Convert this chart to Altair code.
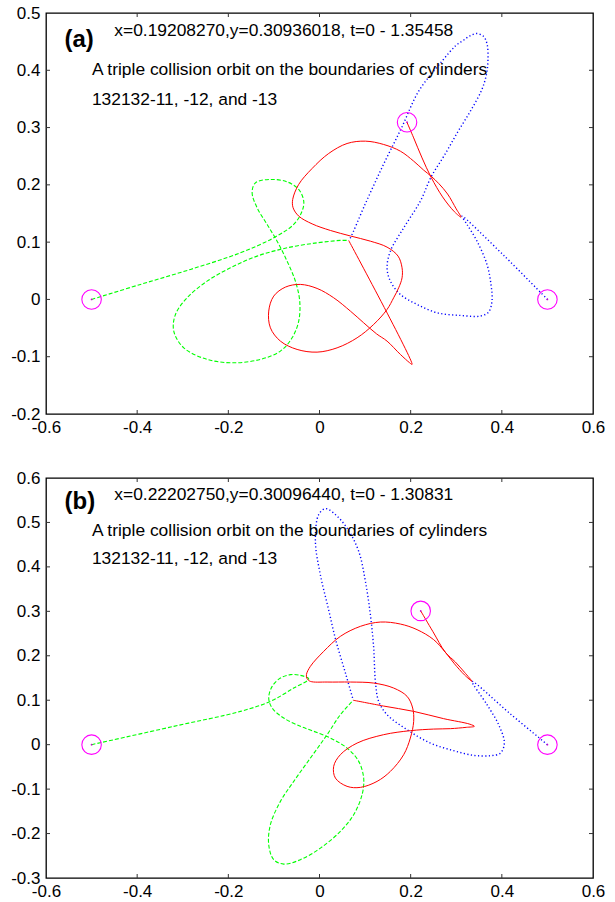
import altair as alt
import pandas as pd

# ---------------- data: panel (a) ----------------
a_red_x = [0.192, 0.2066, 0.225, 0.245, 0.270, 0.296, 0.3105,
           0.300, 0.281, 0.262, 0.245, 0.2285, 0.2066, 0.1774, 0.1408, 0.1007, 0.0605,
           0.0202, -0.0162, -0.0456, -0.0588, -0.0579, -0.0456, -0.0162, 0.0239, 0.0677,
           0.1116, 0.1482, 0.1724, 0.1811, 0.1811, 0.1737, 0.1627, 0.1482, 0.1189, 0.0825,
           0.0386, -0.0053, -0.0491, -0.0857, -0.1077, -0.1114, -0.1004, -0.0748, -0.0419,
           -0.0053, 0.0311, 0.0678, 0.0969, 0.1250, 0.1482, 0.1774, 0.1978, 0.2031, 0.064]
a_red_y = [0.309, 0.282, 0.247, 0.213, 0.179, 0.153, 0.1436,
           0.158, 0.184, 0.202, 0.215, 0.2257, 0.2414, 0.2588, 0.2705, 0.2763, 0.2722,
           0.2548, 0.2286, 0.2008, 0.1745, 0.1600, 0.1455, 0.1319, 0.1204, 0.1108,
           0.1017, 0.0913, 0.0756, 0.0552, 0.0377, 0.0203, 0.0029, -0.0175, -0.0436, -0.0670,
           -0.0845, -0.0920, -0.0873, -0.0728, -0.0496, -0.0204, 0.0058, 0.0215, 0.0262,
           0.0192, 0.0029, -0.0204, -0.0408, -0.0600, -0.0728, -0.0960, -0.1106, -0.1134, 0.103]

a_green_x = [-0.5, -0.3928, -0.2831, -0.1735, -0.1004, -0.0566, -0.0382, -0.0346, -0.0456,
             -0.0711, -0.1077, -0.1406, -0.1478, -0.1368, -0.1149, -0.0930, -0.0711, -0.0529,
             -0.0434, -0.0456, -0.0601, -0.0857, -0.1296, -0.1882, -0.2465, -0.2978, -0.3197,
             -0.3160, -0.2904, -0.2465, -0.1954, -0.1368, -0.0711, -0.0053, 0.0458, 0.064]
a_green_y = [0.0, 0.0262, 0.0524, 0.0814, 0.1076, 0.1309, 0.1541, 0.1716, 0.1920,
             0.2053, 0.2094, 0.2036, 0.1861, 0.1599, 0.1309, 0.1017, 0.0668, 0.0319,
             -0.0030, -0.0379, -0.0670, -0.0902, -0.1047, -0.1106, -0.1047, -0.0845, -0.0553,
             -0.0262, 0.0029, 0.0319, 0.0551, 0.0756, 0.0901, 0.0988, 0.1030, 0.103]

a_blue_x = [0.5, 0.404, 0.3126, 0.3236, 0.3455, 0.3675, 0.3762, 0.3784, 0.371, 0.3529,
            0.309, 0.2579, 0.214, 0.1774, 0.1555, 0.1482, 0.1555, 0.1847, 0.2213, 0.245,
            0.275, 0.303, 0.332, 0.356, 0.366, 0.3695, 0.3678, 0.360, 0.345, 0.330, 0.315,
            0.299, 0.2687, 0.2176, 0.18, 0.14, 0.1, 0.0678, 0.064]
a_blue_y = [0.0, 0.077, 0.1454, 0.1309, 0.1018, 0.061, 0.0261, -0.003, -0.022, -0.029,
            -0.0279, -0.0233, -0.0087, 0.0087, 0.0319, 0.0552, 0.0843, 0.125, 0.1716, 0.214,
            0.253, 0.292, 0.330, 0.366, 0.392, 0.4159, 0.445, 0.459, 0.4642, 0.460, 0.452,
            0.443, 0.4159, 0.3635, 0.2995, 0.235, 0.166, 0.1075, 0.103]

a_circle_x = [0.19208270, -0.5, 0.5]
a_circle_y = [0.30936018, 0.0, 0.0]

# ---------------- data: panel (b) ----------------
b_red_x = [0.222, 0.249, 0.276, 0.298, 0.318, 0.3346, 0.318, 0.296, 0.276, 0.2504, 0.214,
           0.1774, 0.1336, 0.0897, 0.0458, 0.0092, -0.020, -0.0287, -0.0272, -0.020, 0.0167,
           0.0678, 0.1189, 0.1627, 0.1921, 0.2044, 0.2066, 0.1993, 0.1847, 0.1555, 0.1263,
           0.0897, 0.0605, 0.0349, 0.0311, 0.0458, 0.0825, 0.1408, 0.1993, 0.2504, 0.2871,
           0.322, 0.3397, 0.330, 0.2724, 0.2066, 0.140, 0.074]
b_red_y = [0.301, 0.254, 0.208, 0.186, 0.163, 0.1424, 0.157, 0.182, 0.208, 0.2363, 0.2588,
           0.2714, 0.2759, 0.2662, 0.2437, 0.2099, 0.1762, 0.1575, 0.1485, 0.1424, 0.1409,
           0.1409, 0.1386, 0.1274, 0.1087, 0.0824, 0.0524, 0.0149, -0.0225, -0.0601, -0.0826,
           -0.0961, -0.0938, -0.0752, -0.0488, -0.0225, 0.0036, 0.0225, 0.0315, 0.0351, 0.036,
           0.039, 0.0412, 0.046, 0.0585, 0.0749, 0.087, 0.100]

b_green_x = [-0.5, -0.3197, -0.1735, -0.1077, -0.0566, -0.0237, -0.0419, -0.0638, -0.0857,
             -0.1039, -0.1114, -0.1039, -0.0785, -0.0419, -0.015, 0.0239, 0.0605, 0.086,
             0.0969, 0.0934, 0.075, 0.0458, 0.002, -0.0419, -0.0785, -0.1004, -0.1114,
             -0.1077, -0.0857, -0.0565, -0.020, 0.0167, 0.0458, 0.074]
b_green_y = [0.0, 0.0412, 0.0749, 0.0974, 0.1274, 0.1480, 0.156, 0.1575, 0.1499,
             0.1312, 0.1049, 0.0824, 0.0599, 0.0412, 0.031, 0.0149, -0.0077, -0.0376,
             -0.0751, -0.1125, -0.1575, -0.1951, -0.2327, -0.2588, -0.2687, -0.2588, -0.225,
             -0.180, -0.1276, -0.0826, -0.0302, 0.0225, 0.0675, 0.100]

b_blue_x = [0.5, 0.42, 0.3346, 0.3675, 0.393, 0.4055, 0.397, 0.3748, 0.3383, 0.2943, 0.2432,
            0.1921, 0.1482, 0.1298, 0.1226, 0.1189, 0.1116, 0.1007, 0.086, 0.0605, 0.0311,
            0.0129, -0.0018, -0.009, 0.0017, 0.019, 0.0362, 0.0577, 0.074]
b_blue_y = [0.0, 0.068, 0.1424, 0.090, 0.045, 0.0036, -0.0189, -0.0248, -0.0241, -0.0135, 0.0036,
            0.0337, 0.0675, 0.0974, 0.1424, 0.2174, 0.2925, 0.3675, 0.435, 0.4874, 0.5212,
            0.531, 0.5176, 0.4575, 0.3833, 0.3083, 0.2333, 0.1583, 0.100]

b_circle_x = [0.22202750, -0.5, 0.5]
b_circle_y = [0.30096440, 0.0, 0.0]

x_ticks = [-0.6, -0.4, -0.2, 0.0, 0.2, 0.4, 0.6]
a_y_ticks = [-0.2, -0.1, 0.0, 0.1, 0.2, 0.3, 0.4, 0.5]
b_y_ticks = [-0.3, -0.2, -0.1, 0.0, 0.1, 0.2, 0.3, 0.4, 0.5, 0.6]

a_texts = ["x=0.19208270,y=0.30936018, t=0 - 1.35458",
           "A triple collision orbit on the boundaries of cylinders",
           "132132-11, -12, and -13"]
b_texts = ["x=0.22202750,y=0.30096440, t=0 - 1.30831",
           "A triple collision orbit on the boundaries of cylinders",
           "132132-11, -12, and -13"]

FONT = "Liberation Sans"
W = 547
LABEL_EXPR = ("datum.value == 0 ? '0' : (datum.value < 0 ? '-' : '') + "
              "format(abs(datum.value), '.1f')")


def series(xs, ys):
    return pd.DataFrame({"x": xs, "y": ys, "i": list(range(len(xs)))})


def panel(tag, H, ydom, yticks, red, green, blue, circ, texts, tpos):
    xs = alt.Scale(domain=[-0.6, 0.6], nice=False, zero=False)
    ys = alt.Scale(domain=ydom, nice=False, zero=False)
    xax = alt.Axis(values=x_ticks, labelExpr=LABEL_EXPR, title=None, ticks=False,
                   domain=False, grid=False, labelFont=FONT, labelFontSize=17,
                   labelColor="black", labelPadding=5, labelFlush=False)
    yax = alt.Axis(values=yticks, labelExpr=LABEL_EXPR, title=None, ticks=False,
                   domain=False, grid=False, labelFont=FONT, labelFontSize=17,
                   labelColor="black", labelPadding=6)
    X = alt.X("x:Q", scale=xs, axis=xax)
    Y = alt.Y("y:Q", scale=ys, axis=yax)

    red_l = alt.Chart(series(*red)).mark_line(
        color="#ff0000", strokeWidth=1.0, interpolate="catmull-rom").encode(
        x=X, y=Y, order="i:Q")
    green_l = alt.Chart(series(*green)).mark_line(
        color="#00ff00", strokeWidth=1.1, strokeDash=[4, 2],
        interpolate="catmull-rom").encode(x=X, y=Y, order="i:Q")
    blue_l = alt.Chart(series(*blue)).mark_line(
        color="#0000ff", strokeWidth=1.4, strokeDash=[1.2, 2.4],
        interpolate="catmull-rom").encode(x=X, y=Y, order="i:Q")
    cdf = pd.DataFrame({"x": circ[0], "y": circ[1]})
    circles = alt.Chart(cdf).mark_point(
        shape="circle", size=380, filled=False, color="#ff00ff", strokeWidth=1.1,
        opacity=1).encode(x=X, y=Y)
    dots = alt.Chart(cdf).mark_point(
        shape="circle", size=3, filled=True, color="#cc00cc", opacity=1).encode(x=X, y=Y)

    xt = pd.DataFrame({"x": x_ticks[1:-1]})
    yt = pd.DataFrame({"y": yticks[1:-1]})
    tick_bot = alt.Chart(xt).mark_rule(color="#333", strokeWidth=1).encode(
        x=X, y=alt.value(H), y2=alt.value(H - 4))
    tick_top = alt.Chart(xt).mark_rule(color="#333", strokeWidth=1).encode(
        x=X, y=alt.value(0), y2=alt.value(4))
    tick_l = alt.Chart(yt).mark_rule(color="#333", strokeWidth=1).encode(
        y=Y, x=alt.value(0), x2=alt.value(4))
    tick_r = alt.Chart(yt).mark_rule(color="#333", strokeWidth=1).encode(
        y=Y, x=alt.value(W), x2=alt.value(W - 4))

    one = pd.DataFrame({"k": [0]})
    label = alt.Chart(one).mark_text(align="left", baseline="middle", font=FONT,
                                     fontSize=24, fontWeight="bold", color="black").encode(
        x=alt.value(18.5), y=alt.value(tpos[0]), text=alt.value(tag))
    t_layers = []
    xs_px = [68.3, 45.9, 45.9]
    for txt, px, py in zip(texts, xs_px, tpos[1:]):
        t_layers.append(alt.Chart(one).mark_text(
            align="left", baseline="middle", font=FONT, fontSize=17.4,
            color="black").encode(x=alt.value(px), y=alt.value(py), text=alt.value(txt)))

    return alt.layer(green_l, blue_l, red_l, circles, dots, tick_bot, tick_top, tick_l,
                     tick_r, label, *t_layers).properties(width=W, height=H)


pa = panel("(a)", 401, [-0.2, 0.5], a_y_ticks,
           (a_red_x, a_red_y), (a_green_x, a_green_y), (a_blue_x, a_blue_y),
           (a_circle_x, a_circle_y), a_texts, [27.0, 17.6, 57.0, 86.5])
pb = panel("(b)", 400, [-0.3, 0.6], b_y_ticks,
           (b_red_x, b_red_y), (b_green_x, b_green_y), (b_blue_x, b_blue_y),
           (b_circle_x, b_circle_y), b_texts, [24.0, 16.6, 53.3, 80.6])

chart = alt.vconcat(pa, pb, spacing=64, bounds="flush").properties(
    padding={"left": 10, "top": 3, "right": 5, "bottom": 5},
    background="white",
).configure_view(stroke="black", strokeWidth=1.3)

chart.save("out.html", embed_options={"renderer": "svg", "actions": False})
